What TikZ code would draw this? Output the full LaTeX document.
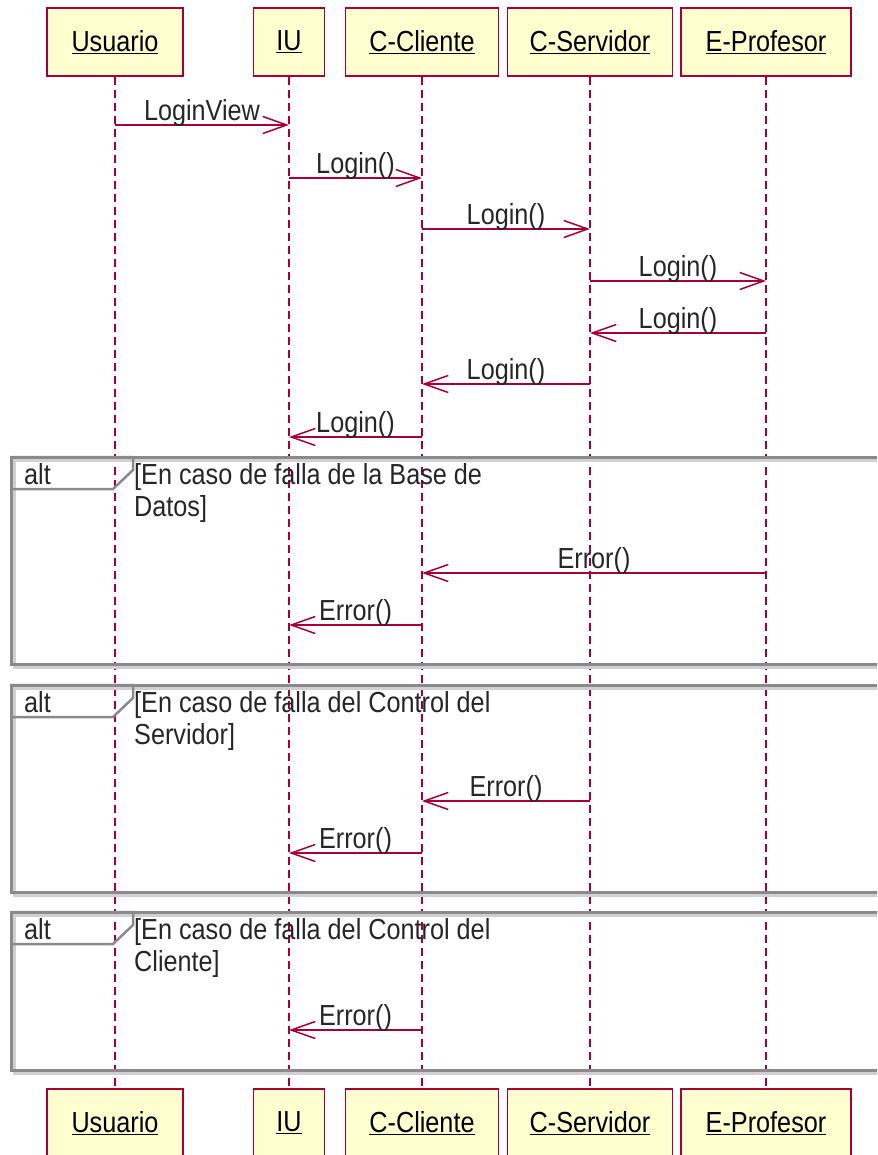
\documentclass[tikz,border=0pt]{standalone}
\usepackage{fontspec}
\setmainfont{Liberation Sans}[FakeStretch=0.87]
\usetikzlibrary{arrows.meta}
\definecolor{umlred}{HTML}{A80036}
\definecolor{umlfill}{HTML}{FEFECE}
\definecolor{framegray}{HTML}{8A8A8A}
\definecolor{shadowgray}{HTML}{D0D0D0}

\begin{document}
\begin{tikzpicture}[
    x=1pt, y=-1pt,
    actor/.style={draw=umlred, line width=1.5pt, fill=umlfill, minimum height=68pt, inner sep=0pt, font=\fontsize{29}{34}\selectfont},
    life/.style={umlred, line width=1.5pt, dash pattern=on 8pt off 5pt},
    msg/.style={umlred, line width=1.5pt, -{Straight Barb[length=24pt, width=17pt]}},
    lbl/.style={above, inner sep=0pt, yshift=-2pt, text=black!85, font=\fontsize{29}{34}\selectfont},
    frame/.style={framegray, line width=3pt},
    shade/.style={shadowgray, line width=3pt},
    tag/.style={anchor=base west, inner sep=0pt, text=black!85, font=\fontsize{29}{34}\selectfont},
    cond/.style={anchor=north west, align=left, inner sep=0pt, text=black!85, font=\fontsize{29}{32}\selectfont}
  ]
    \useasboundingbox (0,0) rectangle (877,1155);
    \clip (0,0) rectangle (877,1155);

    % lifeline heads
    \node[actor, minimum width=136pt] (usr) at (115,42) {\underline{Usuario}};
    \node[actor, minimum width=71pt] (iu) at (289,42) {\underline{IU}};
    \node[actor, minimum width=153pt] (cli) at (422,42) {\underline{C-Cliente}};
    \node[actor, minimum width=165pt] (srv) at (590,42) {\underline{C-Servidor}};
    \node[actor, minimum width=170pt] (prof) at (766,42) {\underline{E-Profesor}};

    % lifeline feet
    \node[actor, minimum width=136pt] (usrB) at (115,1123) {\underline{Usuario}};
    \node[actor, minimum width=71pt] (iuB) at (289,1123) {\underline{IU}};
    \node[actor, minimum width=153pt] (cliB) at (422,1123) {\underline{C-Cliente}};
    \node[actor, minimum width=165pt] (srvB) at (590,1123) {\underline{C-Servidor}};
    \node[actor, minimum width=170pt] (profB) at (766,1123) {\underline{E-Profesor}};

    \draw[life] (usr) -- (usrB);
    \draw[life] (iu) -- (iuB);
    \draw[life] (cli) -- (cliB);
    \draw[life] (srv) -- (srvB);
    \draw[life] (prof) -- (profB);

    % login
    \draw[msg] (usr |- 0,125) -- node[lbl] {LoginView} (iu |- 0,125);
    \draw[msg] (iu |- 0,178) -- node[lbl] {Login()} (cli |- 0,178);
    \draw[msg] (cli |- 0,229) -- node[lbl] {Login()} (srv |- 0,229);
    \draw[msg] (srv |- 0,281) -- node[lbl] {Login()} (prof |- 0,281);
    \draw[msg] (prof |- 0,333) -- node[lbl] {Login()} (srv |- 0,333);
    \draw[msg] (srv |- 0,384) -- node[lbl] {Login()} (cli |- 0,384);
    \draw[msg] (cli |- 0,437) -- node[lbl] {Login()} (iu |- 0,437);

    % alt: base de datos
    \draw[shade] (14,460) rectangle (893,667);
    \draw[frame] (11,457) rectangle (890,664);
    \draw[frame, line width=2.5pt] (11,457) -- (133,457) -- (133,470) -- (113,489) -- (11,489);
    \node[tag] (alt1) at (24,484) {alt};
    \node[cond] (cond1) at (134,463) {[En caso de falla de la Base de\\Datos]};
    \draw[msg] (prof |- 0,573) -- node[lbl] {Error()} (cli |- 0,573);
    \draw[msg] (cli |- 0,625) -- node[lbl] {Error()} (iu |- 0,625);

    % alt: control del servidor
    \draw[shade] (14,688) rectangle (893,895);
    \draw[frame] (11,685) rectangle (890,892);
    \draw[frame, line width=2.5pt] (11,685) -- (133,685) -- (133,698) -- (113,717) -- (11,717);
    \node[tag] (alt2) at (24,712) {alt};
    \node[cond] (cond2) at (134,691) {[En caso de falla del Control del\\Servidor]};
    \draw[msg] (srv |- 0,801) -- node[lbl] {Error()} (cli |- 0,801);
    \draw[msg] (cli |- 0,853) -- node[lbl] {Error()} (iu |- 0,853);

    % alt: control del cliente
    \draw[shade] (14,915) rectangle (893,1073);
    \draw[frame] (11,912) rectangle (890,1070);
    \draw[frame, line width=2.5pt] (11,912) -- (133,912) -- (133,925) -- (113,944) -- (11,944);
    \node[tag] (alt3) at (24,939) {alt};
    \node[cond] (cond3) at (134,918) {[En caso de falla del Control del\\Cliente]};
    \draw[msg] (cli |- 0,1030) -- node[lbl] {Error()} (iu |- 0,1030);
  \end{tikzpicture}
\end{document}
